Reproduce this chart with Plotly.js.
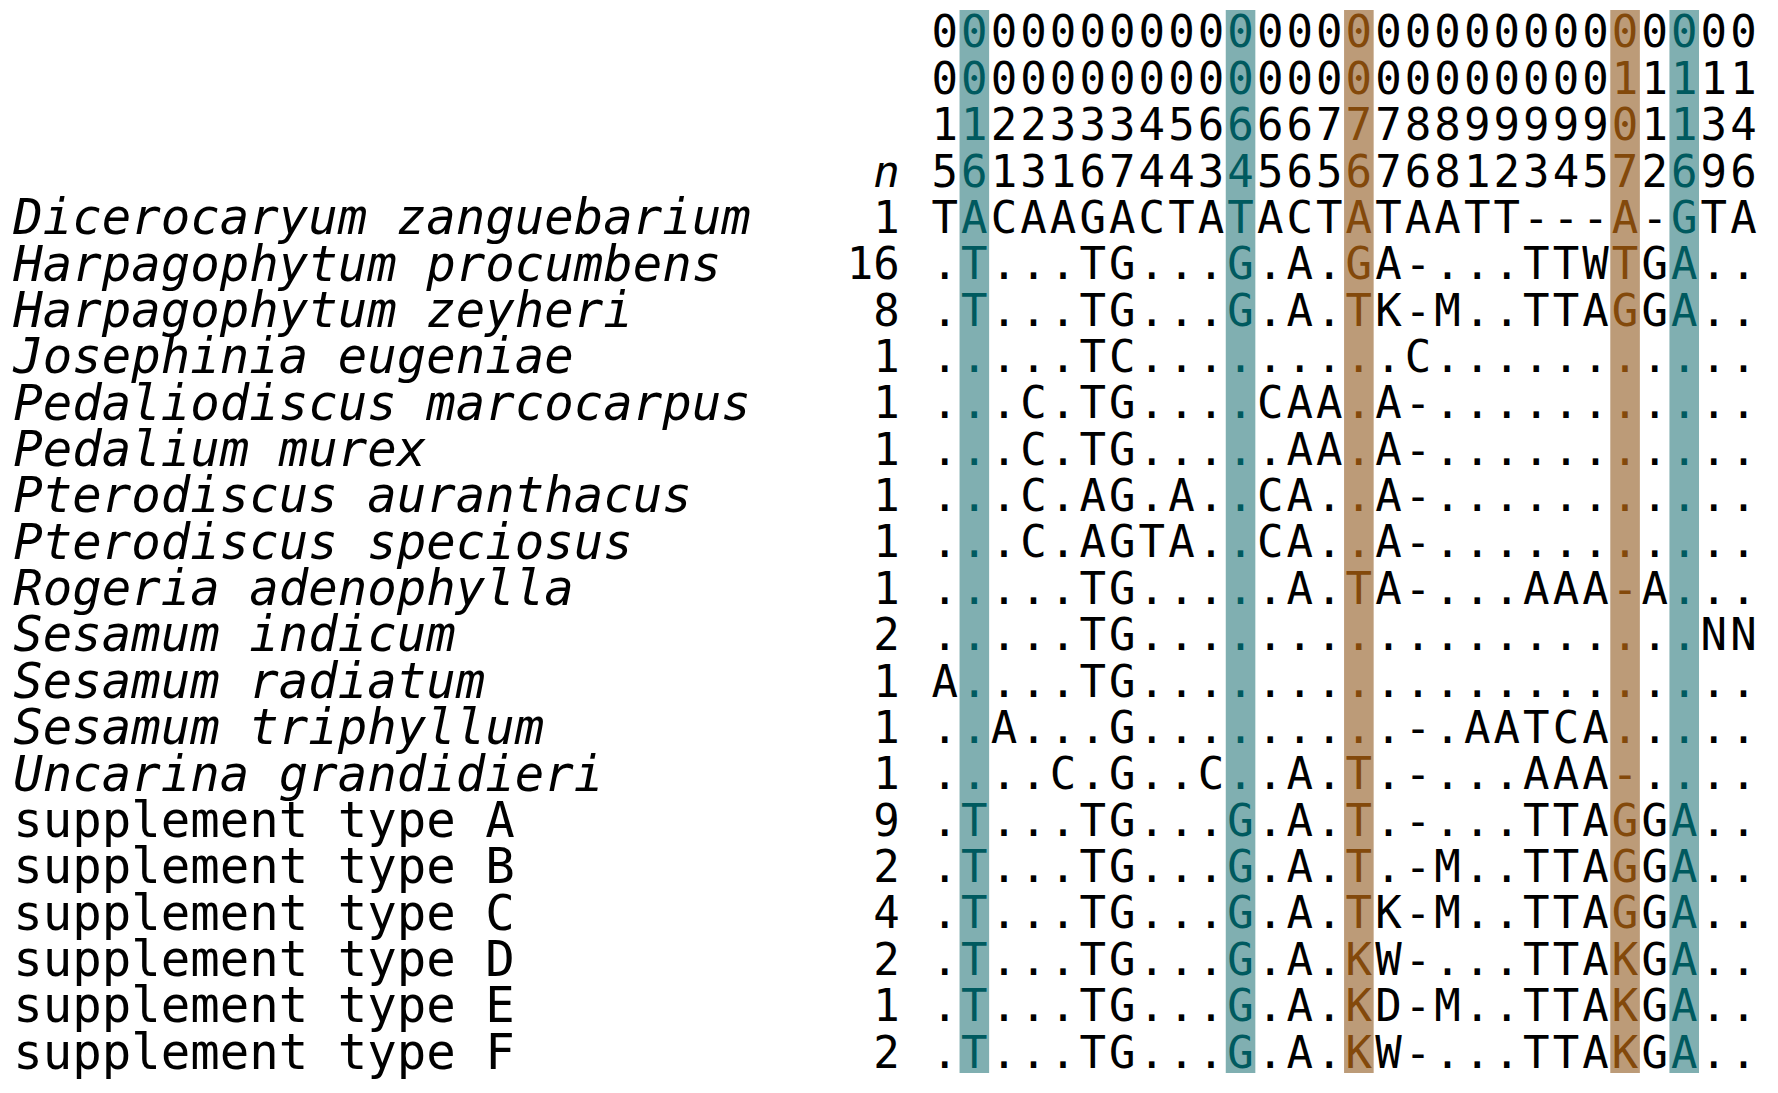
<!DOCTYPE html>
<html>
<head>
<meta charset="utf-8">
<script src="https://cdn.plot.ly/plotly-3.0.1.min.js"></script>
<style>
  html, body { margin: 0; padding: 0; background: #ffffff; }
  #chart { width: 1778px; height: 1093px; }
</style>
</head>
<body>
<div id="chart"></div>
<script>
// ---- data -------------------------------------------------------------
// alignment position numbers, written vertically (four digit rows)
const positionRows = [
  "0000000000000000000000000000",
  "0000000000000000000000011111",
  "1122333456666777889999901134",
  "5613167443456567681234572696"
];

const taxa = [
  "Dicerocaryum zanguebarium",
  "Harpagophytum procumbens",
  "Harpagophytum zeyheri",
  "Josephinia eugeniae",
  "Pedaliodiscus marcocarpus",
  "Pedalium murex",
  "Pterodiscus auranthacus",
  "Pterodiscus speciosus",
  "Rogeria adenophylla",
  "Sesamum indicum",
  "Sesamum radiatum",
  "Sesamum triphyllum",
  "Uncarina grandidieri",
  "supplement type A",
  "supplement type B",
  "supplement type C",
  "supplement type D",
  "supplement type E",
  "supplement type F"
];

const sampleCounts = [1, 16, 8, 1, 1, 1, 1, 1, 1, 2, 1, 1, 1, 9, 2, 4, 2, 1, 2];

const sequences = [
  "TACAAGACTATACTATAATT---A-GTA",
  ".T...TG...G.A.GA-...TTWTGA..",
  ".T...TG...G.A.TK-M..TTAGGA..",
  ".....TC.........C...........",
  "...C.TG....CAA.A-...........",
  "...C.TG.....AA.A-...........",
  "...C.AG.A..CA..A-...........",
  "...C.AGTA..CA..A-...........",
  ".....TG.....A.TA-...AAA-A...",
  ".....TG...................NN",
  "A....TG.....................",
  "..A...G.........-.AATCA.....",
  "....C.G..C..A.T.-...AAA-....",
  ".T...TG...G.A.T.-...TTAGGA..",
  ".T...TG...G.A.T.-M..TTAGGA..",
  ".T...TG...G.A.TK-M..TTAGGA..",
  ".T...TG...G.A.KW-...TTAKGA..",
  ".T...TG...G.A.KD-M..TTAKGA..",
  ".T...TG...G.A.KW-...TTAKGA.."
];

const tealColumns = [2, 11, 26];
const brownColumns = [15, 24];
const countHeader = "n";

// ---- styling ------------------------------------------------------------
const TEAL_TEXT = '#005a5f';
const TEAL_BAND = '#80afb1';
const BROWN_TEXT = '#83490b';
const BROWN_BAND = '#bc9b78';
const MONO = 'DejaVu Sans Mono';

function columnColor(c) {
  if (tealColumns.includes(c)) return TEAL_TEXT;
  if (brownColumns.includes(c)) return BROWN_TEXT;
  return '#000000';
}

// ---- build grid ----------------------------------------------------------
const headerCount = positionRows.length;
const gridRows = positionRows.concat(sequences);
const gx = [], gy = [], gt = [], gc = [];
gridRows.forEach((s, r) => {
  if (s.length !== 28) throw new Error('row ' + r + ' has length ' + s.length);
  Array.from(s).forEach((ch, i) => {
    gx.push(i + 1);
    gy.push(r);
    gt.push(ch);
    gc.push(columnColor(i + 1));
  });
});

const NAME_X = -30.49;
const COUNT_X = -0.52;

const speciesIdx = taxa.map((t, i) => i).filter(i => !taxa[i].startsWith('supplement'));
const supplIdx = taxa.map((t, i) => i).filter(i => taxa[i].startsWith('supplement'));

const traces = [
  {
    type: 'scatter', mode: 'text', x: gx, y: gy, text: gt,
    textposition: 'middle center',
    textfont: { family: MONO, size: 44, color: gc },
    hoverinfo: 'skip', showlegend: false
  },
  {
    type: 'scatter', mode: 'text',
    x: speciesIdx.map(() => NAME_X), y: speciesIdx.map(i => i + headerCount),
    text: speciesIdx.map(i => taxa[i]),
    textposition: 'middle right',
    textfont: { family: MONO, size: 49, color: '#000000', style: 'italic' },
    hoverinfo: 'skip', showlegend: false
  },
  {
    type: 'scatter', mode: 'text',
    x: supplIdx.map(() => NAME_X), y: supplIdx.map(i => i + headerCount),
    text: supplIdx.map(i => taxa[i]),
    textposition: 'middle right',
    textfont: { family: MONO, size: 49, color: '#000000' },
    hoverinfo: 'skip', showlegend: false
  },
  {
    type: 'scatter', mode: 'text',
    x: sampleCounts.map(() => COUNT_X), y: sampleCounts.map((v, i) => i + headerCount),
    text: sampleCounts.map(String),
    textposition: 'middle left',
    textfont: { family: MONO, size: 44, color: '#000000' },
    hoverinfo: 'skip', showlegend: false
  },
  {
    type: 'scatter', mode: 'text',
    x: [COUNT_X], y: [headerCount - 1], text: [countHeader],
    textposition: 'middle left',
    textfont: { family: MONO, size: 44, color: '#000000', style: 'italic' },
    hoverinfo: 'skip', showlegend: false
  }
];

const BAND_TOP = -0.569;
const BAND_BOTTOM = 22.355;
const shapes = [];
tealColumns.forEach(c => shapes.push({
  type: 'rect', xref: 'x', yref: 'y', x0: c - 0.5, x1: c + 0.5, y0: BAND_TOP, y1: BAND_BOTTOM,
  fillcolor: TEAL_BAND, line: { width: 0 }, layer: 'below'
}));
brownColumns.forEach(c => shapes.push({
  type: 'rect', xref: 'x', yref: 'y', x0: c - 0.5, x1: c + 0.5, y0: BAND_TOP, y1: BAND_BOTTOM,
  fillcolor: BROWN_BAND, line: { width: 0 }, layer: 'below'
}));

const layout = {
  width: 1778, height: 1093,
  margin: { l: 0, r: 0, t: 0, b: 0, pad: 0 },
  paper_bgcolor: '#ffffff', plot_bgcolor: '#ffffff',
  xaxis: { range: [-30.94, 29.17], visible: false, fixedrange: true },
  yaxis: { range: [22.786, -0.785], visible: false, fixedrange: true },
  shapes: shapes,
  showlegend: false,
  hovermode: false
};

Plotly.newPlot('chart', traces, layout, { staticPlot: true, displayModeBar: false });
</script>
</body>
</html>
